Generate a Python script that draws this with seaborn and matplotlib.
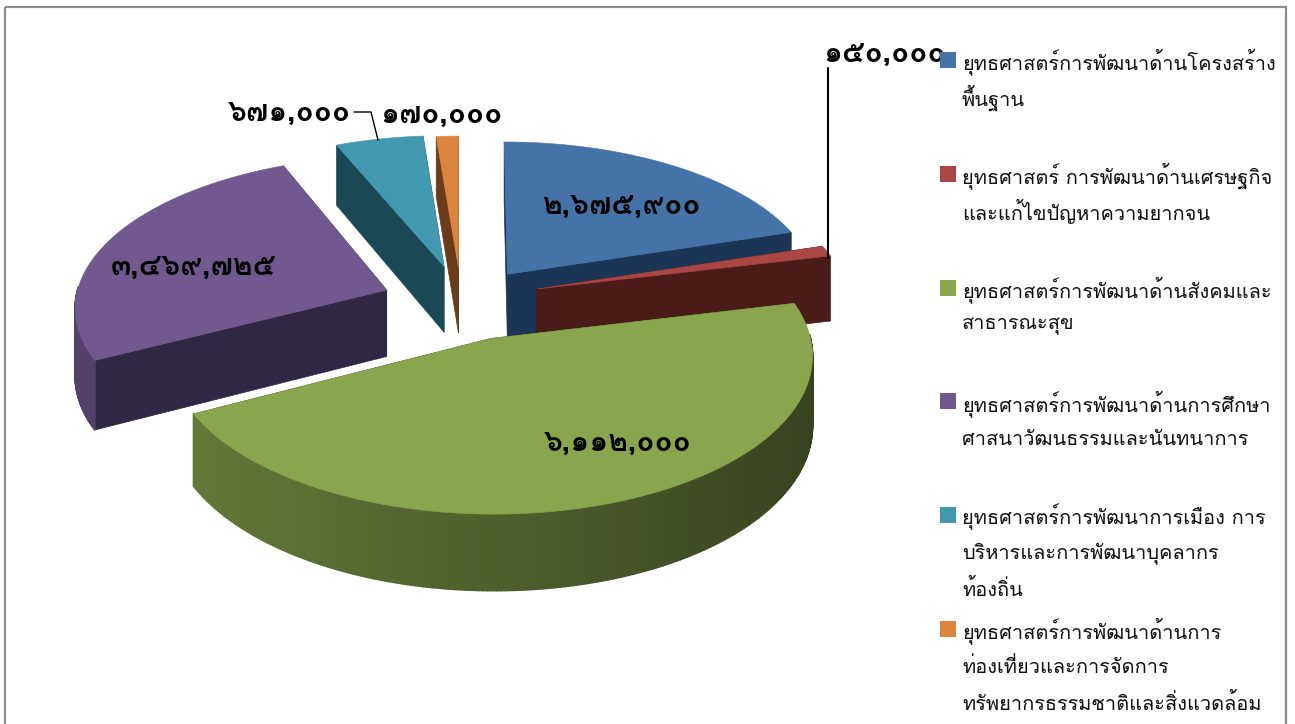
import matplotlib
matplotlib.use("Agg")
import matplotlib.pyplot as plt
import numpy as np
import seaborn as sns
from matplotlib.collections import PolyCollection
from matplotlib.patches import Polygon, Rectangle

VALUES = [2675900, 150000, 6112000, 3469725, 671000, 170000]
VALUE_LABELS = ["๒,๖๗๕,๙๐๐", "๑๕๐,๐๐๐", "๖,๑๑๒,๐๐๐", "๓,๔๖๙,๗๒๕", "๖๗๑,๐๐๐", "๑๗๐,๐๐๐"]
LEGEND_LINES = [
    ["ยุทธศาสตร์การพัฒนาด้านโครงสร้าง", "พื้นฐาน"],
    ["ยุทธศาสตร์ การพัฒนาด้านเศรษฐกิจ", "และแก้ไขปัญหาความยากจน"],
    ["ยุทธศาสตร์การพัฒนาด้านสังคมและ", "สาธารณะสุข"],
    ["ยุทธศาสตร์การพัฒนาด้านการศึกษา", "ศาสนาวัฒนธรรมและนันทนาการ"],
    ["ยุทธศาสตร์การพัฒนาการเมือง การ", "บริหารและการพัฒนาบุคลากร", "ท้องถิ่น"],
    ["ยุทธศาสตร์การพัฒนาด้านการ", "ท่องเที่ยวและการจัดการ", "ทรัพยากรธรรมชาติและสิ่งแวดล้อม"],
]
COLORS = ["#4572A7", "#AA4643", "#89A54E", "#71588F", "#4198AF", "#DB843D"]
SIDE_COLORS = ["#1B3556", "#4A1B17", "#3A4A1F", "#302744", "#1B4855", "#6A3C1A"]
EXPLODE = [0.2, 0.23, 0.26, 0.273, 0.22, 0.21]
SLICE_NUDGE = [(3, 0), (0, 0), (-6, 3), (-2, 6), (-8, 0), (-7, 0)]

LABEL_POS = [(622, 206), (885, 54), (618, 443), (193, 267), (289, 113), (441, 115)]
DRAW_ORDER = [4, 5, 0, 1, 3, 2]

CX, CY, RX, RY = 468, 298, 312, 150
DEPTH, PERSP = 67, 0.10


def project(x, y, z=0.0, nudge=(0, 0)):
    s = 1 / (1 + PERSP * y)
    return CX + nudge[0] + RX * x * s, CY + nudge[1] - RY * y * s + DEPTH * z * s


def shade(color, theta):
    rgb = np.array(matplotlib.colors.to_rgb(color))
    f = 0.75 - 0.35 * (np.cos(np.radians(theta)) + 1) / 2
    return tuple(rgb * f)


def draw_slice(ax, wedge, color, side, nudge):
    cx, cy = wedge.center
    thetas = np.linspace(wedge.theta1, wedge.theta2, 240)
    xs = cx + wedge.r * np.cos(np.radians(thetas))
    ys = cy + wedge.r * np.sin(np.radians(thetas))

    for x, y in [(xs[0], ys[0]), (xs[-1], ys[-1])]:
        quad = [
            project(cx, cy, 0, nudge),
            project(x, y, 0, nudge),
            project(x, y, 1, nudge),
            project(cx, cy, 1, nudge),
        ]
        ax.add_patch(Polygon(quad, fc=side, ec=side, lw=0.5))

    strips, strip_colors = [], []
    for i in range(len(thetas) - 1):
        mid = (thetas[i] + thetas[i + 1]) / 2
        if np.sin(np.radians(mid)) > 0.02:
            continue
        strips.append([
            project(xs[i], ys[i], 0, nudge),
            project(xs[i + 1], ys[i + 1], 0, nudge),
            project(xs[i + 1], ys[i + 1], 1, nudge),
            project(xs[i], ys[i], 1, nudge),
        ])
        strip_colors.append(shade(color, mid))
    if strips:
        ax.add_collection(PolyCollection(strips, facecolors=strip_colors, edgecolors=strip_colors, linewidths=1.2))

    top = [project(cx, cy, 0, nudge)] + [project(x, y, 0, nudge) for x, y in zip(xs, ys)]
    ax.add_patch(Polygon(top, fc=color, ec=color, lw=0.4))


def main():
    sns.set_theme(style="white")
    plt.rcParams["font.family"] = ["Loma", "DejaVu Sans"]

    fig = plt.figure(figsize=(12.95, 7.24), dpi=100)
    pie_ax = fig.add_axes([0, 0, 0.1, 0.1])
    wedges, _ = pie_ax.pie(VALUES, explode=EXPLODE, startangle=90, counterclock=False)
    pie_ax.set_visible(False)

    ax = fig.add_axes([0, 0, 1, 1])
    ax.set_xlim(0, 1295)
    ax.set_ylim(724, 0)
    ax.axis("off")

    ax.add_patch(Rectangle((5, 7), 1281, 800, fc="none", ec="#8C8C8C", lw=1.6))

    for i in DRAW_ORDER:
        draw_slice(ax, wedges[i], COLORS[i], SIDE_COLORS[i], SLICE_NUDGE[i])

    ax.plot([828, 828], [68, 258], color="black", lw=1.5)
    ax.plot([354, 371, 378], [112, 112, 140], color="black", lw=1.0)

    for label, (x, y) in zip(VALUE_LABELS, LABEL_POS):
        ax.text(x, y, label, fontsize=21.5, fontweight="bold", color="black", ha="center", va="center")

    for i, lines in enumerate(LEGEND_LINES):
        y0 = 52 + i * 113.8
        ax.add_patch(Rectangle((940, y0), 16, 16, fc=COLORS[i], ec="none", zorder=5))
        for j, line in enumerate(lines):
            ax.text(962, y0 + 10 + j * 36, line, fontsize=14.4, color="#111111", ha="left", va="center")

    fig.savefig("out.png", dpi=100)


if __name__ == "__main__":
    main()
